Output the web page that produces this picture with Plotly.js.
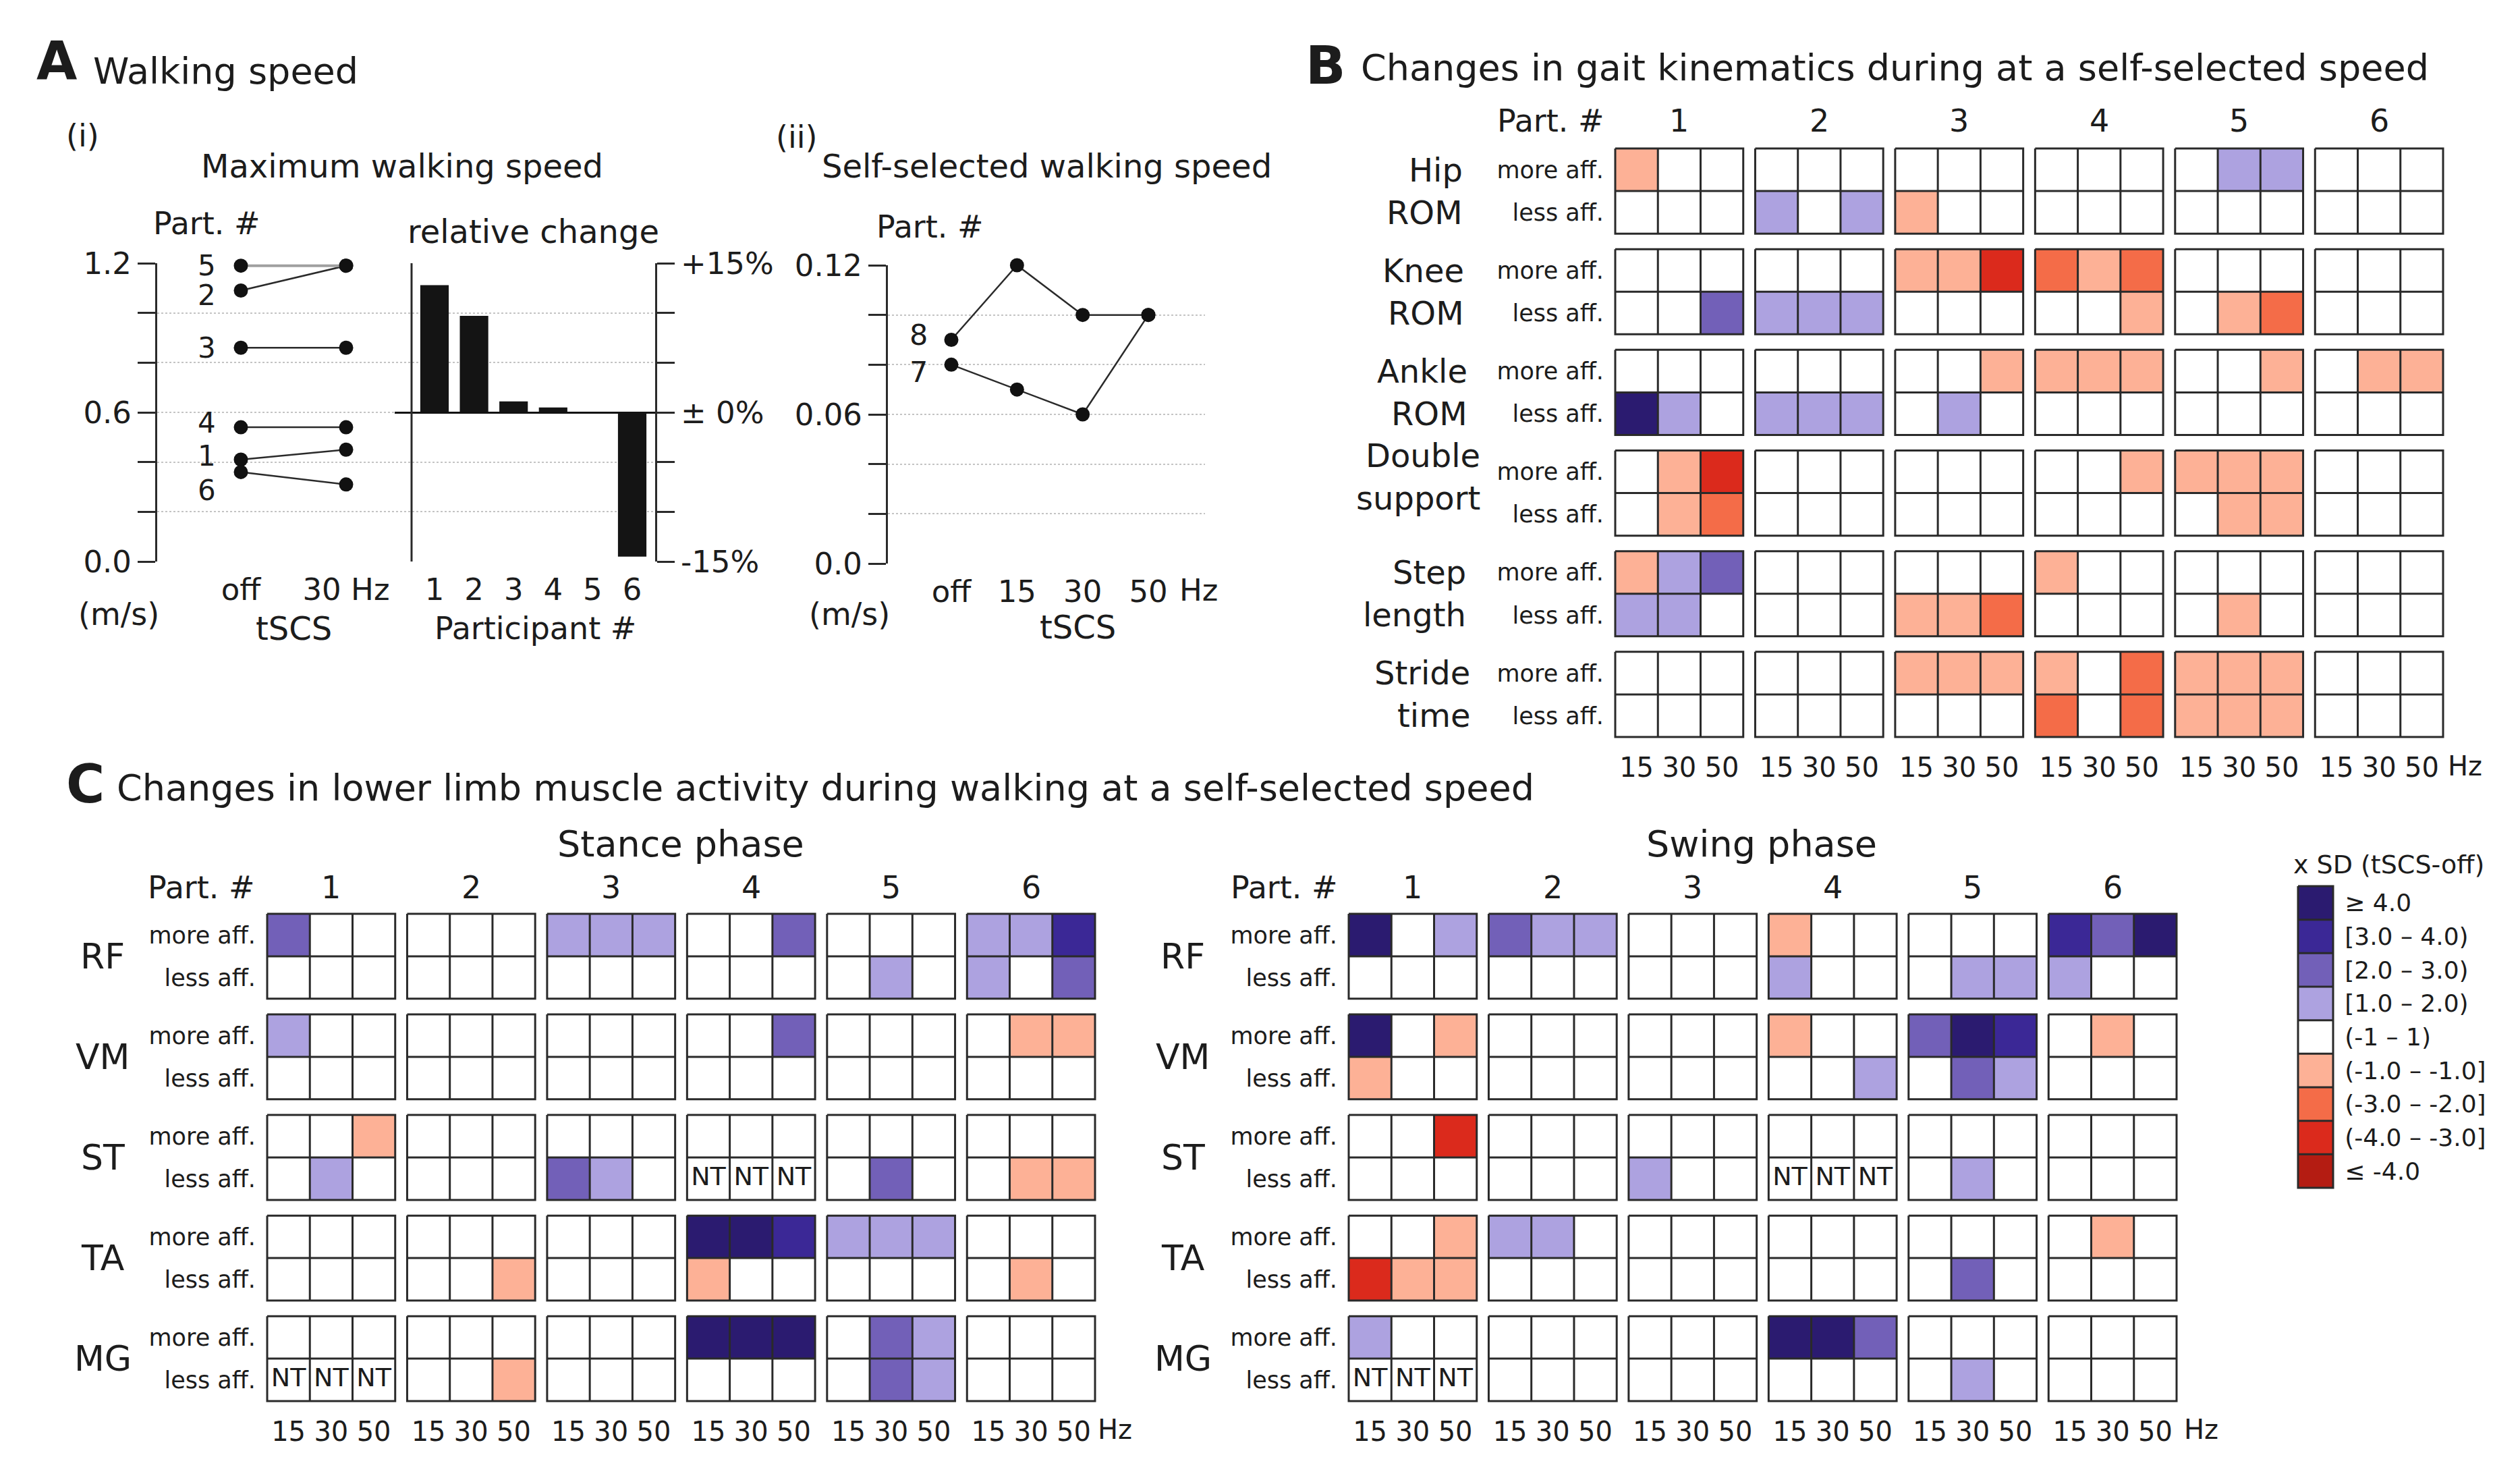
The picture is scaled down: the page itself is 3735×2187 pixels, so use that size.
<!DOCTYPE html>
<html>
<head>
<meta charset="utf-8">
<script src="https://cdn.plot.ly/plotly-3.0.1.min.js"></script>
<style>html,body{margin:0;padding:0;background:#ffffff;}#chart{width:3735px;height:2187px;}</style>
</head>
<body>
<div id="chart"></div>
<script>
// ================= DATA =================
const participants = ['1','2','3','4','5','6'];
const freqLabels = ['15','30','50'];
const affLabels = ['more aff.','less aff.'];

// A(i) maximum walking speed (m/s) and relative change (%)
const maxSpeedTickVals = [0,0.2,0.4,0.6,0.8,1.0,1.2];
const maxSpeedTickText = ['0.0','','','0.6','','','1.2'];
const maxSpeedConditions = ['off','30 Hz'];
const maxSpeedOff  = [0.41,1.09,0.86,0.54,1.19,0.36];
const maxSpeed30Hz = [0.45,1.19,0.86,0.54,1.19,0.31];
const relChangeTickVals = [-15,-10,-5,0,5,10,15];
const relChangeTickText = ['-15%','','','± 0%','','','+15%'];
const relChange = [12.8,9.7,1.1,0.5,-0.1,-14.5];

// A(ii) self-selected walking speed (m/s)
const selfSpeedTickVals = [0,0.02,0.04,0.06,0.08,0.10,0.12];
const selfSpeedTickText = ['0.0','','','0.06','','','0.12'];
const selfConditions = ['off','15','30','50'];
const selfParticipants = ['7','8'];
const selfSpeedP7 = [0.080,0.070,0.060,0.100];
const selfSpeedP8 = [0.090,0.120,0.100,0.100];

// B gait kinematics: level codes (x SD), 6 participants x 15/30/50 Hz
const kinMeasures = [['Hip','ROM'],['Knee','ROM'],['Ankle','ROM'],['Double','support'],['Step','length'],['Stride','time']];
const kinHipMore    = [-1,0,0,  0,0,0,  0,0,0,  0,0,0,  0,1,1,  0,0,0];
const kinHipLess    = [0,0,0,   1,0,1, -1,0,0,  0,0,0,  0,0,0,  0,0,0];
const kinKneeMore   = [0,0,0,   0,0,0, -1,-1,-3, -2,-1,-2, 0,0,0, 0,0,0];
const kinKneeLess   = [0,0,2,   1,1,1,  0,0,0,  0,0,-1, 0,-1,-2, 0,0,0];
const kinAnkleMore  = [0,0,0,   0,0,0,  0,0,-1, -1,-1,-1, 0,0,-1, 0,-1,-1];
const kinAnkleLess  = [4,1,0,   1,1,1,  0,1,0,  0,0,0,  0,0,0,  0,0,0];
const kinDoubleMore = [0,-1,-3, 0,0,0,  0,0,0,  0,0,-1, -1,-1,-1, 0,0,0];
const kinDoubleLess = [0,-1,-2, 0,0,0,  0,0,0,  0,0,0,  0,-1,-1, 0,0,0];
const kinStepMore   = [-1,1,2,  0,0,0,  0,0,0, -1,0,0,  0,0,0,  0,0,0];
const kinStepLess   = [1,1,0,   0,0,0, -1,-1,-2, 0,0,0, 0,-1,0, 0,0,0];
const kinStrideMore = [0,0,0,   0,0,0, -1,-1,-1, -1,0,-2, -1,-1,-1, 0,0,0];
const kinStrideLess = [0,0,0,   0,0,0,  0,0,0, -2,0,-2, -1,-1,-1, 0,0,0];

// C muscle activity (null = NT, not tested)
const muscles = ['RF','VM','ST','TA','MG'];
const stanceRFMore = [2,0,0, 0,0,0, 1,1,1, 0,0,2, 0,0,0, 1,1,3];
const stanceRFLess = [0,0,0, 0,0,0, 0,0,0, 0,0,0, 0,1,0, 1,0,2];
const stanceVMMore = [1,0,0, 0,0,0, 0,0,0, 0,0,2, 0,0,0, 0,-1,-1];
const stanceVMLess = [0,0,0, 0,0,0, 0,0,0, 0,0,0, 0,0,0, 0,0,0];
const stanceSTMore = [0,0,-1, 0,0,0, 0,0,0, 0,0,0, 0,0,0, 0,0,0];
const stanceSTLess = [0,1,0, 0,0,0, 2,1,0, null,null,null, 0,2,0, 0,-1,-1];
const stanceTAMore = [0,0,0, 0,0,0, 0,0,0, 4,4,3, 1,1,1, 0,0,0];
const stanceTALess = [0,0,0, 0,0,-1, 0,0,0, -1,0,0, 0,0,0, 0,-1,0];
const stanceMGMore = [0,0,0, 0,0,0, 0,0,0, 4,4,4, 0,2,1, 0,0,0];
const stanceMGLess = [null,null,null, 0,0,-1, 0,0,0, 0,0,0, 0,2,1, 0,0,0];

const swingRFMore = [4,0,1, 2,1,1, 0,0,0, -1,0,0, 0,0,0, 3,2,4];
const swingRFLess = [0,0,0, 0,0,0, 0,0,0, 1,0,0, 0,1,1, 1,0,0];
const swingVMMore = [4,0,-1, 0,0,0, 0,0,0, -1,0,0, 2,4,3, 0,-1,0];
const swingVMLess = [-1,0,0, 0,0,0, 0,0,0, 0,0,1, 0,2,1, 0,0,0];
const swingSTMore = [0,0,-3, 0,0,0, 0,0,0, 0,0,0, 0,0,0, 0,0,0];
const swingSTLess = [0,0,0, 0,0,0, 1,0,0, null,null,null, 0,1,0, 0,0,0];
const swingTAMore = [0,0,-1, 1,1,0, 0,0,0, 0,0,0, 0,0,0, 0,-1,0];
const swingTALess = [-3,-1,-1, 0,0,0, 0,0,0, 0,0,0, 0,2,0, 0,0,0];
const swingMGMore = [1,0,0, 0,0,0, 0,0,0, 4,4,2, 0,0,0, 0,0,0];
const swingMGLess = [null,null,null, 0,0,0, 0,0,0, 0,0,0, 0,1,0, 0,0,0];

// legend levels (top to bottom)
const levelValues = [4,3,2,1,0,-1,-2,-3,-4];
const levelLabels = ['≥ 4.0','[3.0 – 4.0)','[2.0 – 3.0)','[1.0 – 2.0)','(-1 – 1)','(-1.0 – -1.0]','(-3.0 – -2.0]','(-4.0 – -3.0]','≤ -4.0'];

// ================= STYLE / GEOMETRY =================
const W = 3735, H = 2187;
const FONT = 'DejaVu Sans, Arial, sans-serif';
const INK = '#1c1c1c';
const LINE = '#2a2a2a';
const levelColors = ['#2b1b70','#3b2896','#7260b8','#ada2e0','#ffffff','#fdb196','#f46c48','#db2a1c','#b41c12'];
const COLGAP = 0.28;
const PAD = 5;

const kinRows = [kinHipMore,kinHipLess,kinKneeMore,kinKneeLess,kinAnkleMore,kinAnkleLess,
                 kinDoubleMore,kinDoubleLess,kinStepMore,kinStepLess,kinStrideMore,kinStrideLess];
const stanceRows = [stanceRFMore,stanceRFLess,stanceVMMore,stanceVMLess,stanceSTMore,stanceSTLess,
                    stanceTAMore,stanceTALess,stanceMGMore,stanceMGLess];
const swingRows = [swingRFMore,swingRFLess,swingVMMore,swingVMLess,swingSTMore,swingSTLess,
                   swingTAMore,swingTALess,swingMGMore,swingMGLess];

function px(x){return x/W;}
function py(y){return 1-y/H;}
function linX(pA,pB,vA,vB,d0,d1){const s=(vB-vA)/(pB-pA);return {domain:[d0/W,d1/W],range:[vA+(d0-pA)*s,vA+(d1-pA)*s]};}
function hAxis(p0,p1,u0,u1){const s=(p1-p0)/(u1-u0);return {domain:[(p0-PAD)/W,(p1+PAD)/W],range:[u0-PAD/s,u1+PAD/s]};}
function vAxisDown(p0,p1,u0,u1){const s=(p1-p0)/(u1-u0);return {domain:[1-(p1+PAD)/H,1-(p0-PAD)/H],range:[u1+PAD/s,u0-PAD/s]};}

// stepped colour scale from level -4..4
const colorscale = [];
const ascColors = levelColors.slice().reverse();
ascColors.forEach((c,k)=>{colorscale.push([k/9,c]);colorscale.push([(k+1)/9,c]);});

function buildGrid(rows, rowGap, nP, nF){
  const nG = rows.length/2;
  const xEdges=[];
  for(let p=0;p<nP;p++){const b=p*(nF+COLGAP);for(let f=0;f<nF;f++)xEdges.push(b+f);if(p<nP-1)xEdges.push(b+nF);}
  xEdges.push((nP-1)*(nF+COLGAP)+nF);
  const yEdges=[];
  for(let g=0;g<nG;g++){const b=g*(2+rowGap);yEdges.push(b,b+1);if(g<nG-1)yEdges.push(b+2);}
  yEdges.push((nG-1)*(2+rowGap)+2);
  const z=[];
  rows.forEach((row,i)=>{
    const zr=[];
    for(let p=0;p<nP;p++){for(let f=0;f<nF;f++)zr.push(row[p*nF+f]);if(p<nP-1)zr.push(null);}
    z.push(zr);
    if(i%2===1 && i<rows.length-1) z.push(new Array(zr.length).fill(null));
  });
  const bx=[],by=[];
  function seg(x0,y0,x1,y1){bx.push(x0,x1,null);by.push(y0,y1,null);}
  for(let g=0;g<nG;g++)for(let p=0;p<nP;p++){
    const x0=p*(nF+COLGAP), y0=g*(2+rowGap);
    bx.push(x0,x0+nF,x0+nF,x0,x0,null);by.push(y0,y0,y0+2,y0+2,y0,null);
    for(let f=1;f<nF;f++)seg(x0+f,y0,x0+f,y0+2);
    seg(x0,y0+1,x0+nF,y0+1);
  }
  const ntx=[],nty=[];
  rows.forEach((row,i)=>{const g=Math.floor(i/2),r=i%2;row.forEach((v,j)=>{if(v===null){const p=Math.floor(j/nF),f=j%nF;ntx.push(p*(nF+COLGAP)+f+0.5);nty.push(g*(2+rowGap)+r+0.5);}});});
  const xC=[],xT=[];
  for(let p=0;p<nP;p++)for(let f=0;f<nF;f++){xC.push(p*(nF+COLGAP)+f+0.5);xT.push(freqLabels[f]);}
  const yC=[],yT=[];
  for(let g=0;g<nG;g++)for(let r=0;r<2;r++){yC.push(g*(2+rowGap)+r+0.5);yT.push(affLabels[r]);}
  const pC=[];for(let p=0;p<nP;p++)pC.push(p*(nF+COLGAP)+nF/2);
  const gC=[];for(let g=0;g<nG;g++)gC.push(g*(2+rowGap)+1);
  return {xEdges,yEdges,z,bx,by,ntx,nty,xC,xT,yC,yT,pC,gC,
          xMax:(nP-1)*(nF+COLGAP)+nF, yMax:(nG-1)*(2+rowGap)+2};
}

const gridB = buildGrid(kinRows,0.365,6,3);
const gridSt = buildGrid(stanceRows,0.37,6,3);
const gridSw = buildGrid(swingRows,0.37,6,3);

const traces=[];
// ---- A(i) lines ----
participants.forEach((p,i)=>{
  traces.push({type:'scatter',mode:'lines+markers',x:[0,1],y:[maxSpeedOff[i],maxSpeed30Hz[i]],
    xaxis:'x',yaxis:'y',cliponaxis:false,
    line:{color:p==='5'?'#a0a0a0':LINE,width:p==='5'?4:2.5},
    marker:{size:21,color:'#111111'},hoverinfo:'skip'});
});
// ---- A(i) bars ----
traces.push({type:'bar',x:participants.map(Number),y:relChange,xaxis:'x2',yaxis:'y2',
  marker:{color:'#141414',line:{width:0}},width:0.72,hoverinfo:'skip'});
// ---- A(ii) lines ----
[selfSpeedP7,selfSpeedP8].forEach(arr=>{
  traces.push({type:'scatter',mode:'lines+markers',x:selfConditions.map((c,i)=>i),y:arr,
    xaxis:'x3',yaxis:'y3',cliponaxis:false,line:{color:LINE,width:2.5},marker:{size:21,color:'#111111'},hoverinfo:'skip'});
});
// ---- heatmaps ----
function addGrid(G,xa,ya){
  traces.push({type:'heatmap',x:G.xEdges,y:G.yEdges,z:G.z,xaxis:xa,yaxis:ya,zmin:-4.5,zmax:4.5,
    colorscale:colorscale,showscale:false,hoverinfo:'skip',zsmooth:false});
  traces.push({type:'scatter',mode:'lines',x:G.bx,y:G.by,xaxis:xa,yaxis:ya,
    line:{color:LINE,width:3},hoverinfo:'skip',connectgaps:false});
  if(G.ntx.length) traces.push({type:'scatter',mode:'text',x:G.ntx,y:G.nty,text:G.ntx.map(()=>'NT'),
    xaxis:xa,yaxis:ya,textfont:{size:38,family:FONT,color:INK},hoverinfo:'skip'});
}
addGrid(gridB,'x4','y4');
addGrid(gridSt,'x5','y5');
addGrid(gridSw,'x6','y6');
// ---- legend heatmap ----
const legBx=[0,1,1,0,0,null], legBy=[0,0,9,9,0,null];
for(let k=1;k<9;k++){legBx.push(0,1,null);legBy.push(k,k,null);}
traces.push({type:'heatmap',x:[0,1],y:levelValues.map((v,i)=>i).concat([9]),z:levelValues.map(v=>[v]),
  xaxis:'x7',yaxis:'y7',zmin:-4.5,zmax:4.5,colorscale:colorscale,showscale:false,hoverinfo:'skip'});
traces.push({type:'scatter',mode:'lines',x:legBx,y:legBy,xaxis:'x7',yaxis:'y7',line:{color:LINE,width:3},hoverinfo:'skip'});

// ================= AXES =================
const tf=(s)=>({size:s,family:FONT,color:INK});
const base={showgrid:false,zeroline:false,showline:false,fixedrange:true,tickangle:0};
const hiddenTick={ticks:'outside',tickcolor:'rgba(0,0,0,0)'};
const gridStyle={showgrid:true,gridcolor:'#c4c4c4',gridwidth:2,griddash:'dot'};
const axisLine={showline:true,linecolor:LINE,linewidth:3,ticks:'outside',ticklen:26,tickwidth:3,tickcolor:LINE};

const layout={
  width:W,height:H,margin:{l:0,r:0,t:0,b:0},paper_bgcolor:'#ffffff',plot_bgcolor:'rgba(0,0,0,0)',
  showlegend:false,hovermode:false,font:{family:FONT,color:INK},
  xaxis:Object.assign({},base,linX(357,513,0,1,233,998),hiddenTick,{anchor:'y',tickvals:[0,1],ticktext:maxSpeedConditions,ticklen:2,tickfont:tf(45)}),
  yaxis:Object.assign({},base,gridStyle,axisLine,{anchor:'x',domain:[py(832),py(390)],range:[0,1.2],tickvals:maxSpeedTickVals,ticktext:maxSpeedTickText,tickfont:tf(45)}),
  xaxis2:Object.assign({},base,linX(644,937,1,6,585,998),hiddenTick,{anchor:'y2',tickvals:participants.map(Number),ticktext:participants,ticklen:2,tickfont:tf(45)}),
  yaxis2:Object.assign({},base,axisLine,{anchor:'free',position:px(972),side:'right',domain:[py(832),py(390)],range:[-15,15],
    tickvals:relChangeTickVals,ticktext:relChangeTickText,tickfont:tf(45),zeroline:true,zerolinecolor:'#111',zerolinewidth:3}),
  xaxis3:Object.assign({},base,linX(1410,1702,0,3,1316,1786),hiddenTick,{anchor:'y3',tickvals:[0,1,2,3],ticktext:selfConditions,ticklen:2,tickfont:tf(45)}),
  yaxis3:Object.assign({},base,gridStyle,axisLine,{anchor:'x3',domain:[py(835),py(393)],range:[0,0.12],tickvals:selfSpeedTickVals,ticktext:selfSpeedTickText,tickfont:tf(45)}),
  xaxis4:Object.assign({},base,hAxis(2394,3621,0,gridB.xMax),hiddenTick,{anchor:'y4',tickvals:gridB.xC,ticktext:gridB.xT,ticklen:5,tickfont:tf(40)}),
  yaxis4:Object.assign({},base,vAxisDown(220,1092,0,gridB.yMax),hiddenTick,{anchor:'x4',tickvals:gridB.yC,ticktext:gridB.yT,ticklen:4,tickfont:tf(35)}),
  xaxis5:Object.assign({},base,hAxis(396,1623,0,gridSt.xMax),hiddenTick,{anchor:'y5',tickvals:gridSt.xC,ticktext:gridSt.xT,ticklen:5,tickfont:tf(40)}),
  yaxis5:Object.assign({},base,vAxisDown(1354,2076,0,gridSt.yMax),hiddenTick,{anchor:'x5',tickvals:gridSt.yC,ticktext:gridSt.yT,ticklen:4,tickfont:tf(35)}),
  xaxis6:Object.assign({},base,hAxis(1999,3226,0,gridSw.xMax),hiddenTick,{anchor:'y6',tickvals:gridSw.xC,ticktext:gridSw.xT,ticklen:5,tickfont:tf(40)}),
  yaxis6:Object.assign({},base,vAxisDown(1354,2076,0,gridSw.yMax),hiddenTick,{anchor:'x6',tickvals:gridSw.yC,ticktext:gridSw.yT,ticklen:4,tickfont:tf(35)}),
  xaxis7:Object.assign({},base,hAxis(3406,3458,0,1),{anchor:'y7',ticks:'',showticklabels:false}),
  yaxis7:Object.assign({},base,vAxisDown(1313,1760,0,9),hiddenTick,{anchor:'x7',side:'right',tickvals:levelValues.map((v,i)=>i+0.5),ticktext:levelLabels,ticklen:4,tickfont:tf(36)}),
  shapes:[{type:'line',xref:'paper',yref:'paper',x0:px(610),x1:px(610),y0:py(832),y1:py(390),line:{color:LINE,width:3}}],
  annotations:[]
};

function T(text,x,y,size,o){return Object.assign({text:text,x:px(x),y:py(y),xref:'paper',yref:'paper',showarrow:false,
  font:{size:size,family:FONT,color:INK},xanchor:'center',yanchor:'middle'},o||{});}
const A=layout.annotations;
// Panel A
A.push(T('<b>A</b>',52,90,78,{xanchor:'left'}));
A.push(T('Walking speed',136,105,54,{xanchor:'left'}));
A.push(T('(i)',122,201,46));
A.push(T('Maximum walking speed',596,246,48));
A.push(T('Part. #',306,331,46));
A.push(T('relative change',790,343,48));
const maxLabelNudge=[0.016,-0.018,0,0.017,0,-0.074];
participants.forEach((p,i)=>{A.push({text:p,x:px(306),y:maxSpeedOff[i]+maxLabelNudge[i],xref:'paper',yref:'y',showarrow:false,font:tf(42),xanchor:'center',yanchor:'middle'});});
A.push(T('(m/s)',176,910,46));
A.push(T('tSCS',435,931,48));
A.push(T('Participant #',793,931,46));
A.push(T('(ii)',1180,203,46));
A.push(T('Self-selected walking speed',1551,246,48));
A.push(T('Part. #',1378,336,46));
const selfLabelNudge=[-0.003,0.002];
[selfSpeedP7,selfSpeedP8].forEach((arr,i)=>{A.push({text:selfParticipants[i],x:px(1361),y:arr[0]+selfLabelNudge[i],xref:'paper',yref:'y3',showarrow:false,font:tf(43),xanchor:'center',yanchor:'middle'});});
A.push(T('Hz',1746,874,45,{xanchor:'left'}));
A.push(T('(m/s)',1259,910,46));
A.push(T('tSCS',1597,929,48));
// Panel B
A.push(T('<b>B</b>',1933,97,78,{xanchor:'left'}));
A.push(T('Changes in gait kinematics during at a self-selected speed',2015,101,54,{xanchor:'left'}));
A.push(T('Part. #',2380,179,46,{xanchor:'right'}));
gridB.pC.forEach((c,i)=>A.push({text:participants[i],x:c,y:py(179),xref:'x4',yref:'paper',showarrow:false,font:tf(46),xanchor:'center',yanchor:'middle'}));
const kinLabelRight=[2170,2172,2177,2196,2175,2181];
const kinLabelShift=[0,0,0,-0.38,0,0];
kinMeasures.forEach((m,g)=>{
  m.forEach((line,r)=>{A.push({text:line,x:px(kinLabelRight[g]),y:g*(2+0.365)+r+0.5+kinLabelShift[g],xref:'paper',yref:'y4',showarrow:false,font:tf(48),xanchor:'right',yanchor:'middle'});});
});
A.push(T('Hz',3626,1135,40,{xanchor:'left'}));
// Panel C
A.push(T('<b>C</b>',96,1162,78,{xanchor:'left'}));
A.push(T('Changes in lower limb muscle activity during walking at a self-selected speed',171,1167,54,{xanchor:'left'}));
A.push(T('Stance phase',1009,1250,54));
A.push(T('Swing phase',2611,1250,54));
A.push(T('Part. #',380,1315,46,{xanchor:'right'}));
A.push(T('Part. #',1985,1315,46,{xanchor:'right'}));
[[gridSt,'x5','y5',152],[gridSw,'x6','y6',1753]].forEach(([G,xa,ya,mx])=>{
  G.pC.forEach((c,i)=>A.push({text:participants[i],x:c,y:py(1315),xref:xa,yref:'paper',showarrow:false,font:tf(46),xanchor:'center',yanchor:'middle'}));
  G.gC.forEach((c,g)=>A.push({text:muscles[g],x:px(mx),y:c,xref:'paper',yref:ya,showarrow:false,font:tf(52),xanchor:'center',yanchor:'middle'}));
});
A.push(T('Hz',1625,2118,40,{xanchor:'left'}));
A.push(T('Hz',3235,2118,40,{xanchor:'left'}));
// legend title
A.push(T('x SD (tSCS-off)',3540,1281,38));

Plotly.newPlot('chart',traces,layout,{displayModeBar:false,staticPlot:true});
</script>
</body>
</html>
